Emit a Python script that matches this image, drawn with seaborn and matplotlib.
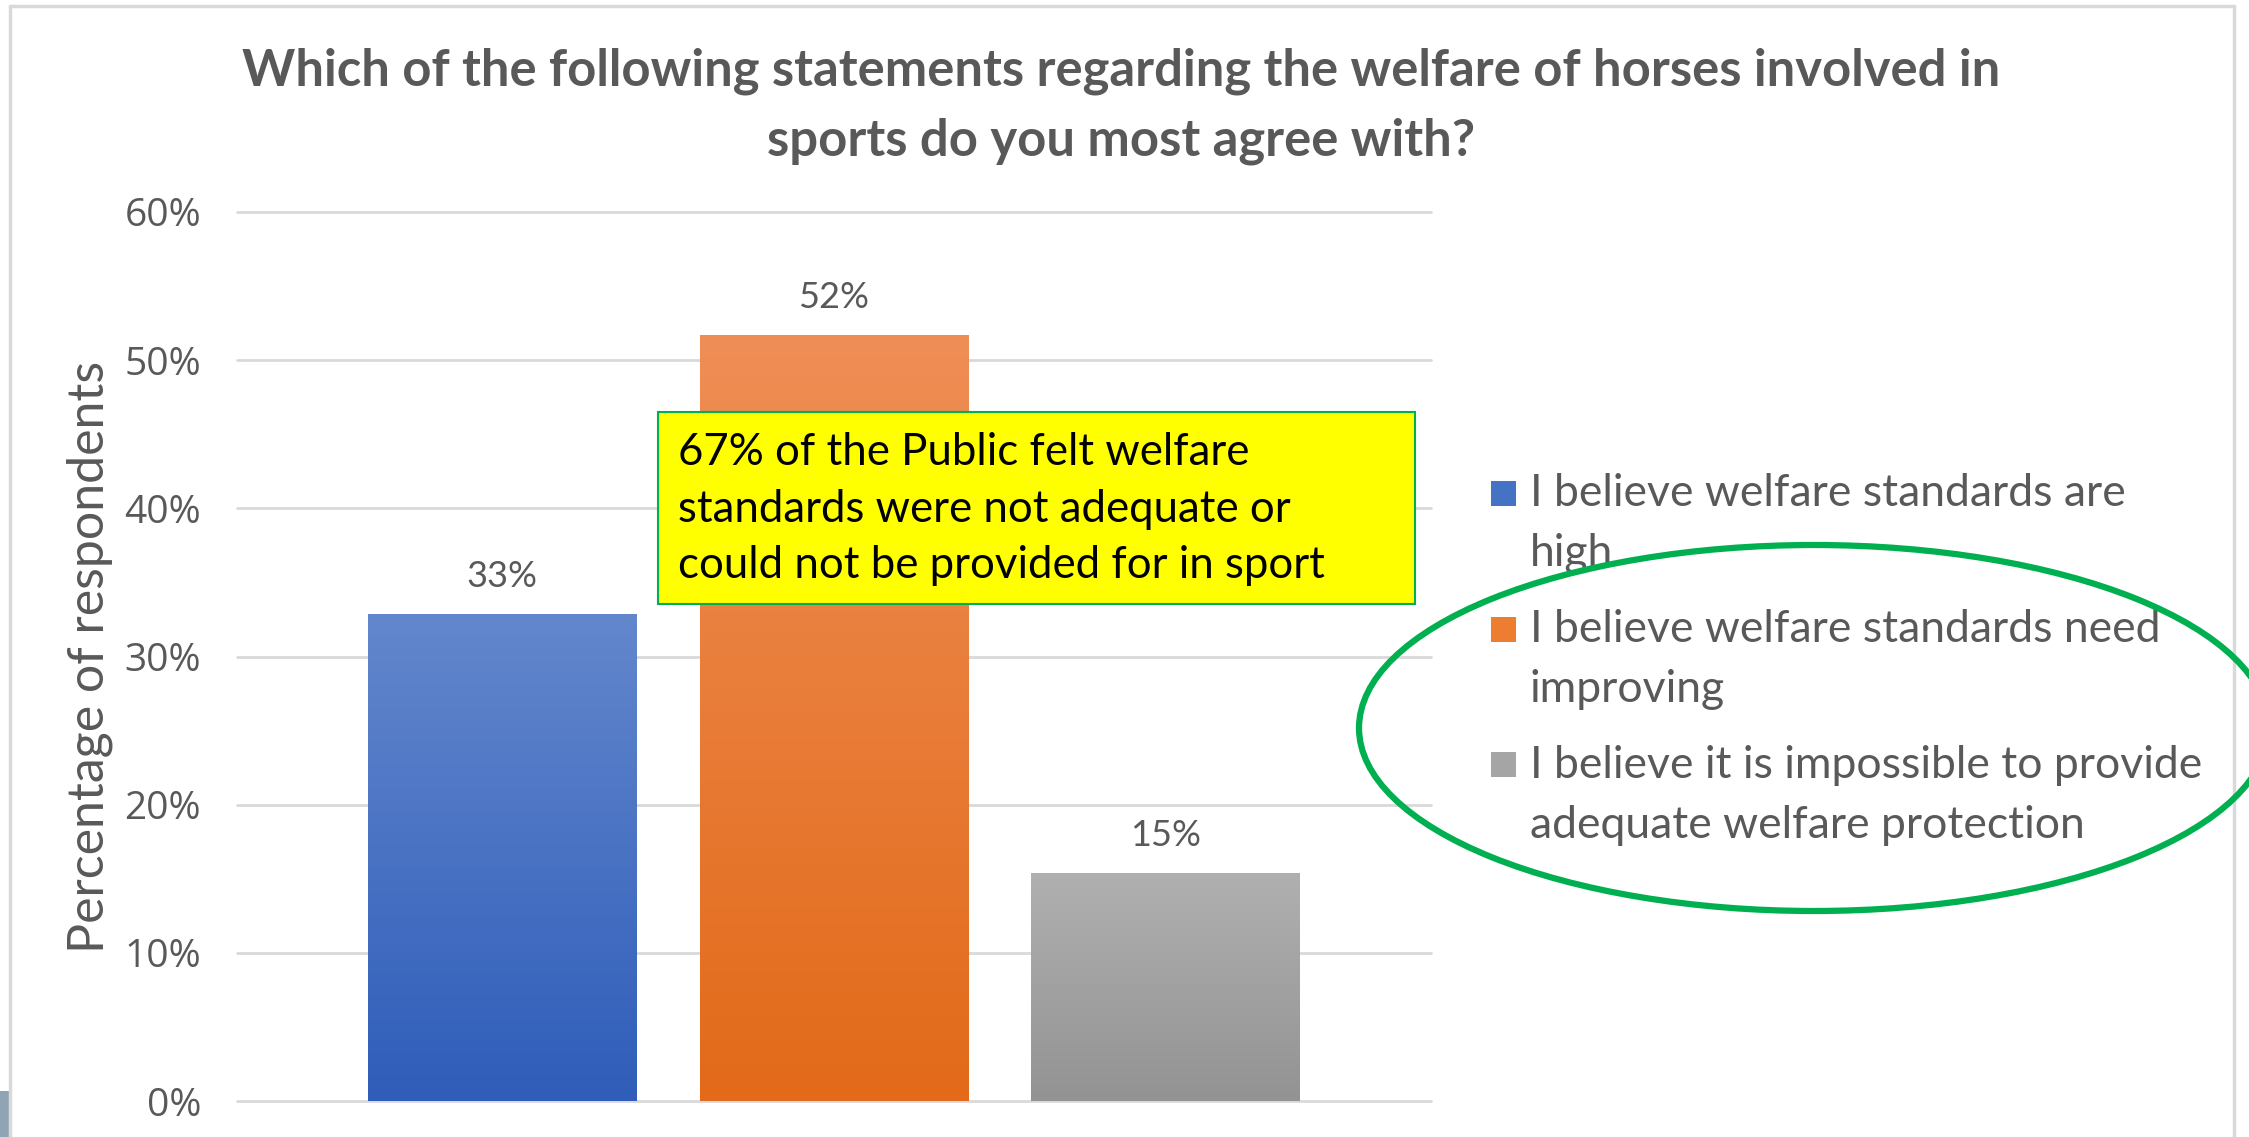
import numpy as np
import pandas as pd
import seaborn as sns
import matplotlib.pyplot as plt
from matplotlib.patches import Ellipse, Rectangle
from matplotlib.lines import Line2D
from matplotlib.colors import LinearSegmentedColormap

# ---- data ----
categories = [
    "I believe welfare standards are high",
    "I believe welfare standards need improving",
    "I believe it is impossible to provide adequate welfare protection",
]
legend_lines = [
    ["I believe welfare standards are", "high"],
    ["I believe welfare standards need", "improving"],
    ["I believe it is impossible to provide", "adequate welfare protection"],
]
shares = [0.329, 0.517, 0.154]
y_ticks = [0.0, 0.1, 0.2, 0.3, 0.4, 0.5, 0.6]
y_tick_labels = ["0%", "10%", "20%", "30%", "40%", "50%", "60%"]

title_text = ("Which of the following statements regarding the welfare of horses involved in\n"
              "sports do you most agree with?")
ylabel_text = "Percentage of respondents"
callout_lines = [
    "67% of the Public felt welfare",
    "standards were not adequate or",
    "could not be provided for in sport",
]

# bar fills: (top, bottom) of the vertical gradient
top_colors = ["#6387CD", "#EF8E56", "#B0B0B0"]
bottom_colors = ["#2F5DB9", "#E26A19", "#939393"]
mid_colors = ["#4472C4", "#ED7D31", "#A5A5A5"]
text_grey = "#595959"

W, H = 2249, 1137


def fx(px):
    return px / W


def fy(py):
    return 1 - py / H


sns.set_theme(style="white")
plt.rcParams["font.family"] = ["Lato", "DejaVu Sans"]

fig = plt.figure(figsize=(W / 100, H / 100), dpi=100)
fig.patch.set_facecolor("white")

ax = fig.add_axes([fx(237), fy(1101), fx(1431) - fx(237), fy(212) - fy(1101)])

df = pd.DataFrame({"category": categories, "share": shares})
sns.barplot(data=df, x="category", y="share", hue="category",
            palette=mid_colors, width=0.81, legend=False, ax=ax,
            edgecolor="none", linewidth=0)

# gradient fill clipped to each bar
bars = sorted(ax.patches, key=lambda p: p.get_x())
for bar, c_top, c_bot in zip(bars, top_colors, bottom_colors):
    x0, w = bar.get_x(), bar.get_width()
    h = bar.get_height()
    cmap = LinearSegmentedColormap.from_list("g", [c_bot, c_top])
    grad = np.linspace(0, 1, 256).reshape(-1, 1)
    im = ax.imshow(grad, cmap=cmap, origin="lower", aspect="auto",
                   extent=[x0, x0 + w, 0, h], zorder=bar.get_zorder() + 0.1,
                   interpolation="bicubic")
    im.set_clip_path(bar)

ax.set_xlim(-0.80, 2.80)
ax.set_ylim(0, 0.6)

# value labels
for bar, v in zip(bars, shares):
    ax.text(bar.get_x() + bar.get_width() / 2, v + 0.025, f"{v:.0%}",
            ha="center", va="center", fontsize=26, color=text_grey,
            zorder=5)

# gridlines
ax.set_yticks(y_ticks)
ax.set_yticklabels(y_tick_labels)
for t in y_ticks:
    ax.axhline(t, color="#D9D9D9", lw=2, zorder=0, clip_on=False)
ax.grid(False)
for s in ax.spines.values():
    s.set_visible(False)
ax.set_xticks([])
ax.set_xlabel("")
ax.tick_params(axis="y", length=0, pad=26, labelsize=28, labelcolor=text_grey)
for lab in ax.get_yticklabels():
    lab.set_family(["Open Sans", "DejaVu Sans"])

ax.set_ylabel(ylabel_text, fontsize=36, color=text_grey)
ax.yaxis.label.set_va("center")
ax.yaxis.set_label_coords((90 - 237) / (1431 - 237), 0.5)

# title
fig.text(fx(1121), fy(106), title_text, ha="center", va="center",
         fontsize=36.5, fontweight="bold", color=text_grey, linespacing=1.6)

# legend drawn as swatches with wrapped labels
legend_rows = [(494, 554), (630, 689), (765, 825)]
for lines, col, rows in zip(legend_lines, mid_colors, legend_rows):
    fig.patches.append(Rectangle((fx(1491), fy(rows[0] + 12)), fx(25), 25 / H,
                                 transform=fig.transFigure, facecolor=col,
                                 edgecolor="none"))
    for line, yc in zip(lines, rows):
        fig.text(fx(1530), fy(yc), line, ha="left", va="center",
                 fontsize=32, color=text_grey)

# callout box
fig.patches.append(Rectangle((fx(658), fy(604)), fx(1415) - fx(658), (604 - 412) / H,
                             transform=fig.transFigure, facecolor="#FFFF00",
                             edgecolor="#00B050", lw=1.5, zorder=3))
for line, yc in zip(callout_lines, [452, 509, 566]):
    fig.text(fx(678), fy(yc), line, ha="left", va="center",
             fontsize=31.5, color="black", zorder=4)

# green ellipse around the last two options
fig.patches.append(Ellipse((fx(1814), fy(728)), fx(910), 366 / H,
                           transform=fig.transFigure, facecolor="none",
                           edgecolor="#00B050", lw=4.5, zorder=4))

# slide frame and corner tab
frame = dict(color="#D9D9D9", lw=2.5, transform=fig.transFigure)
fig.lines.append(Line2D([fx(10), fx(2234)], [fy(6), fy(6)], **frame))
fig.lines.append(Line2D([fx(10), fx(10)], [fy(6), fy(1137)], **frame))
fig.lines.append(Line2D([fx(2234), fx(2234)], [fy(6), fy(1137)], **frame))
fig.patches.append(Rectangle((0, 0), fx(9), (1137 - 1091) / H,
                             transform=fig.transFigure, facecolor="#8FA5B5",
                             edgecolor="none"))

fig.savefig("out.png", dpi=100)
